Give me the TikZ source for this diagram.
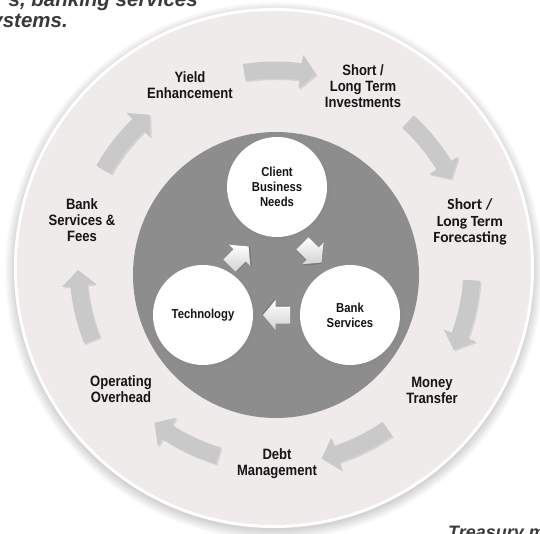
\documentclass[tikz,border=0pt]{standalone}
\usepackage{fontspec}
\usetikzlibrary{shadows}
\newfontfamily\narrowfont[FakeStretch=0.87]{Liberation Sans}
\newfontfamily\calfont{Carlito}
\newfontfamily\arialfont{Liberation Sans}
\definecolor{ringA}{HTML}{EFEBEA}
\definecolor{ringB}{HTML}{E8E2E1}
\definecolor{ringC}{HTML}{DDD6D5}
\definecolor{darkdisc}{HTML}{8D8D8D}
\definecolor{arrowgray}{HTML}{C9C9C9}
\definecolor{arrowlight}{HTML}{D2D2D2}
\definecolor{textdark}{HTML}{151515}
\definecolor{captiongray}{HTML}{3A3A3A}
\pgfdeclareradialshading{ringshade}{\pgfpoint{0bp}{0bp}}{color(0bp)=(ringA); color(37bp)=(ringA); color(47bp)=(ringB); color(50bp)=(ringC)}
\tikzset{
  lbl/.style={align=center, inner sep=0pt, text=textdark, font=\narrowfont\bfseries\fontsize{15}{16}\selectfont},
  lblc/.style={align=center, inner sep=0pt, text=textdark, font=\calfont\bfseries\fontsize{15.5}{16.5}\selectfont},
  bubble/.style={circle, fill=white, minimum size=100pt, inner sep=0pt, align=center, text=textdark,
    font=\narrowfont\bfseries\fontsize{13}{15}\selectfont,
    circular drop shadow={shadow xshift=1pt, shadow yshift=-2pt, shadow scale=1.05, opacity=0.35}},
  caption/.style={inner sep=0pt, text=captiongray, font=\arialfont\bfseries\itshape\fontsize{20.5}{22}\selectfont},
  captionsmall/.style={inner sep=0pt, text=captiongray, font=\arialfont\bfseries\itshape\fontsize{18}{20}\selectfont},
  innerarrow/.pic={
    \fill[black, opacity=0.15] (-12.5,-7.5) -- (2,-7.5) -- (2,-14) -- (14.5,1) -- (2,16) -- (2,9.5) -- (-12.5,9.5) -- cycle;
    \shade[top color=white, bottom color=arrowlight, shading angle=0]
      (-13.5,-8.5) -- (1,-8.5) -- (1,-15) -- (13.5,0) -- (1,15) -- (1,8.5) -- (-13.5,8.5) -- cycle;
  }
}
\begin{document}
\begin{tikzpicture}[x=1pt,y=-1pt]
\useasboundingbox (0,0) rectangle (540,534);
\clip (0,0) rectangle (540,534);
\fill[white] (0,0) rectangle (540,534);
% soft outer shadow
\foreach \i in {1,...,11}{
  \fill[black, opacity=0.017] (274,271) circle ({258+\i});
}
% white rim and shaded ring
\fill[white] (274,268) circle (260);
\shade[shading=ringshade] (274,268) circle (257);
% dark inner disc
\fill[darkdisc] (276,275) circle (143);
% outer curved block arrows
\begin{scope}[shift={(275,267)}]
\foreach \c in {-88.5,-37.071,14.357,65.786,117.214,168.643,220.071}{
  \pgfmathsetmacro\aTail{\c-10.5}
  \pgfmathsetmacro\aBase{\c+6}
  \pgfmathsetmacro\aTip{\c+10.5}
  \fill[black, opacity=0.10, shift={(1.5,1.5)}]
    plot[domain=\aTail:\aBase, samples=14] (\x:205.5) -- (\aBase:214) -- (\aTip:197) -- (\aBase:180)
    -- plot[domain=\aBase:\aTail, samples=14] (\x:188.5) -- cycle;
  \fill[arrowgray]
    plot[domain=\aTail:\aBase, samples=14] (\x:205.5) -- (\aBase:214) -- (\aTip:197) -- (\aBase:180)
    -- plot[domain=\aBase:\aTail, samples=14] (\x:188.5) -- cycle;
}
\end{scope}
% inner bubbles
\node[bubble] (client) at (277,187) {Client\\Business\\Needs};
\node[bubble] (bank) at (350,315) {Bank\\Services};
\node[bubble] (tech) at (203,315) {Technology};
% inner block arrows
\pic[rotate=-45] at (312,253) {innerarrow};
\pic[rotate=180] at (276.5,315) {innerarrow};
\pic[rotate=45] at (239,256) {innerarrow};
% outer labels
\node[lbl] (yield) at (190,85) {Yield\\Enhancement};
\node[lbl] (invest) at (363,86) {Short /\\Long Term\\Investments};
\node[lblc] (forecast) at (470,222) {Short /\\Long Term\\Forecasting};
\node[lbl] (money) at (432,390) {Money\\Transfer};
\node[lbl] (debt) at (277,464) {Debt\\Management};
\node[lbl] (overhead) at (121,389) {Operating\\Overhead};
\node[lbl] (fees) at (82,220) {Bank\\Services \&\\Fees};
% cut-off caption texts
\node[caption, anchor=base east] (cap1) at (198,7) {s, banking services};
\node[caption, anchor=base east] (cap2) at (68,28) {ystems.};
\node[captionsmall, anchor=base west] (cap3) at (448,538) {Treasury m};
\end{tikzpicture}
\end{document}
